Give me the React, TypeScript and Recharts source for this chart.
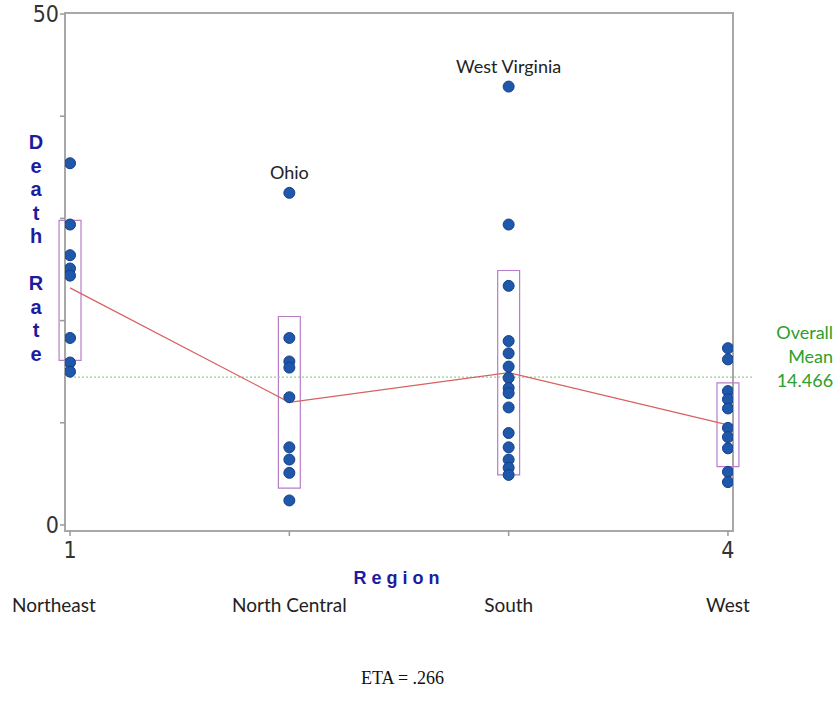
import React from 'react';
import {
  ScatterChart,
  Scatter,
  XAxis,
  YAxis,
  ReferenceArea,
  ReferenceLine,
  LabelList,
} from 'recharts';

// regions on the x axis (coded 1..4)
const regions = ['Northeast', 'North Central', 'South', 'West'];
const regionCodes = [1, 2, 3, 4];

// death rate per state, grouped by region
const northeast = [35.4, 29.4, 26.4, 25.1, 24.4, 18.3, 15.9, 15.0];
const northCentral = [32.5, 18.3, 16.0, 15.4, 12.5, 7.6, 6.4, 5.1, 2.4];
const south = [42.9, 29.4, 23.4, 18.0, 16.8, 15.5, 14.4, 13.4, 12.9, 11.5, 9.0, 7.6, 6.4, 5.6, 4.9];
const west = [17.3, 16.2, 13.1, 12.3, 11.4, 9.5, 8.6, 7.5, 5.2, 4.2];

// group means and the box around each group
const groupMeans = [23.2, 12.0, 14.9, 9.8];
const boxLow = [16.1, 3.6, 4.9, 5.7];
const boxHigh = [29.8, 20.4, 24.9, 13.9];

const overallMean = 14.466;

// labelled outliers
const labelNames = ['Ohio', 'West Virginia'];
const labelRegion = [2, 3];
const labelValues = [32.5, 42.9];

const yTicks = [0, 10, 20, 30, 40, 50];
const xTicks = [1, 2, 3, 4];

const groups = [northeast, northCentral, south, west];
const points = groups.flatMap((vals, i) => vals.map((v) => ({ x: regionCodes[i], y: v })));
const meanData = groupMeans.map((m, i) => ({ x: regionCodes[i], y: m }));
const labelData = labelNames.map((n, i) => ({ x: labelRegion[i], y: labelValues[i], name: n }));

const BLUE = '#1c1ca0';
const NARROW = "'Liberation Sans Narrow', 'Arial Narrow', 'DejaVu Sans Condensed', sans-serif";
const CAL = "Lato, 'Open Sans', sans-serif";

const Dot = (props: any) => (
  <circle cx={props.cx} cy={props.cy} r={5.5} fill="#1f57aa" stroke="#15408a" strokeWidth={1} />
);

const XTick = (props: any) => {
  const { x, y, payload, index } = props;
  const v = payload.value;
  const showNum = v === 1 || v === 4;
  const name = regions[index];
  return (
    <g>
      {showNum && (
        <text x={x} y={y + 20} textAnchor="middle" fontSize={23} fill="#333" fontFamily={NARROW}>
          {v}
        </text>
      )}
      <text
        x={index === 0 ? 12 : x}
        y={y + 74}
        textAnchor={index === 0 ? 'start' : 'middle'}
        fontSize={19}
        fill="#222"
        fontFamily={CAL}
      >
        {name}
      </text>
    </g>
  );
};

const DeathRateLabel = () => {
  const letters = ['D', 'e', 'a', 't', 'h', '', 'R', 'a', 't', 'e'];
  return (
    <text x={36} textAnchor="middle" fontSize={20} fontWeight="bold" fill={BLUE} fontFamily="'Liberation Sans', Arial, sans-serif">
      {letters.map((l, i) =>
        l ? (
          <tspan key={i} x={36} y={149 + i * 23.5}>
            {l}
          </tspan>
        ) : null
      )}
    </text>
  );
};

const MeanLabel = (props: any) => {
  const vb = props.viewBox;
  const right = vb.x + vb.width + 81;
  return (
    <text textAnchor="end" fontSize={18} fill="#2ca02c" fontFamily={CAL}>
      <tspan x={right} y={vb.y - 38}>Overall</tspan>
      <tspan x={right} y={vb.y - 14}>Mean</tspan>
      <tspan x={right} y={vb.y + 10}>{overallMean}</tspan>
    </text>
  );
};

const OutlierLabel = (props: any) => {
  const { x, y, width, value } = props;
  return (
    <text x={x + width / 2} y={y - 9} textAnchor="middle" fontSize={18} fill="#222" fontFamily={CAL}>
      {value}
    </text>
  );
};

export default function App() {
  return (
    <div style={{ position: 'absolute', left: 0, top: 0, width: 839, height: 717, background: '#fff' }}>
      <ScatterChart
        width={839}
        height={717}
        margin={{ top: 13, right: 106, bottom: 156, left: 5 }}
      >
        <XAxis
          type="number"
          dataKey="x"
          domain={[0.977, 4.023]}
          ticks={xTicks}
          allowDataOverflow
          height={30}
          axisLine={false}
          tickLine={{ stroke: '#999', strokeWidth: 1.5 }}
          tickSize={5}
          tick={<XTick />}
          interval={0}
          label={{
            value: 'Region',
            position: 'insideBottom',
            dy: 28,
            fill: BLUE,
            fontSize: 18,
            fontWeight: 'bold',
            letterSpacing: 5,
            fontFamily: "'Liberation Sans', Arial, sans-serif",
          }}
        />
        <YAxis
          type="number"
          dataKey="y"
          domain={[-0.59, 50.1]}
          ticks={yTicks}
          allowDataOverflow
          width={60}
          axisLine={false}
          tickLine={{ stroke: '#999', strokeWidth: 1.5 }}
          tickSize={5}
          tickMargin={1}
          interval={0}
          tick={{ fontSize: 23, fill: '#333', fontFamily: NARROW }}
          tickFormatter={(v: number) => (v === 0 || v === 50 ? String(v) : '')}
          label={<DeathRateLabel />}
        />
        {/* plot frame */}
        <ReferenceArea
          x1={0.977}
          x2={4.023}
          y1={-0.59}
          y2={50.1}
          fill="none"
          fillOpacity={0}
          stroke="#a8a8a8"
          strokeWidth={2}
          ifOverflow="visible"
        />
        {regionCodes.map((c, i) => (
          <ReferenceArea
            key={c}
            x1={c - 0.05}
            x2={c + 0.05}
            y1={boxLow[i]}
            y2={boxHigh[i]}
            fill="none"
            fillOpacity={0}
            stroke="#b87cc8"
            strokeWidth={1.2}
            ifOverflow="visible"
          />
        ))}
        <ReferenceLine
          segment={[
            { x: 1, y: overallMean },
            { x: 4.11, y: overallMean },
          ]}
          stroke="#8fd08f"
          strokeDasharray="2 2"
          strokeWidth={1.2}
          ifOverflow="visible"
          label={<MeanLabel />}
        />
        <Scatter
          data={meanData}
          line={{ stroke: '#d86060', strokeWidth: 1.2 }}
          shape={() => <g />}
          isAnimationActive={false}
        />
        <Scatter data={points} shape={<Dot />} isAnimationActive={false} />
        <Scatter data={labelData} shape={() => <g />} isAnimationActive={false}>
          <LabelList dataKey="name" content={<OutlierLabel />} />
        </Scatter>
      </ScatterChart>
      <div
        style={{
          position: 'absolute',
          left: 0,
          width: 839,
          top: 668,
          textAlign: 'center',
          paddingRight: 34,
          boxSizing: 'border-box',
          fontFamily: "'Liberation Serif', 'Times New Roman', serif",
          fontSize: 18,
          color: '#111',
        }}
      >
        ETA = .266
      </div>
    </div>
  );
}
